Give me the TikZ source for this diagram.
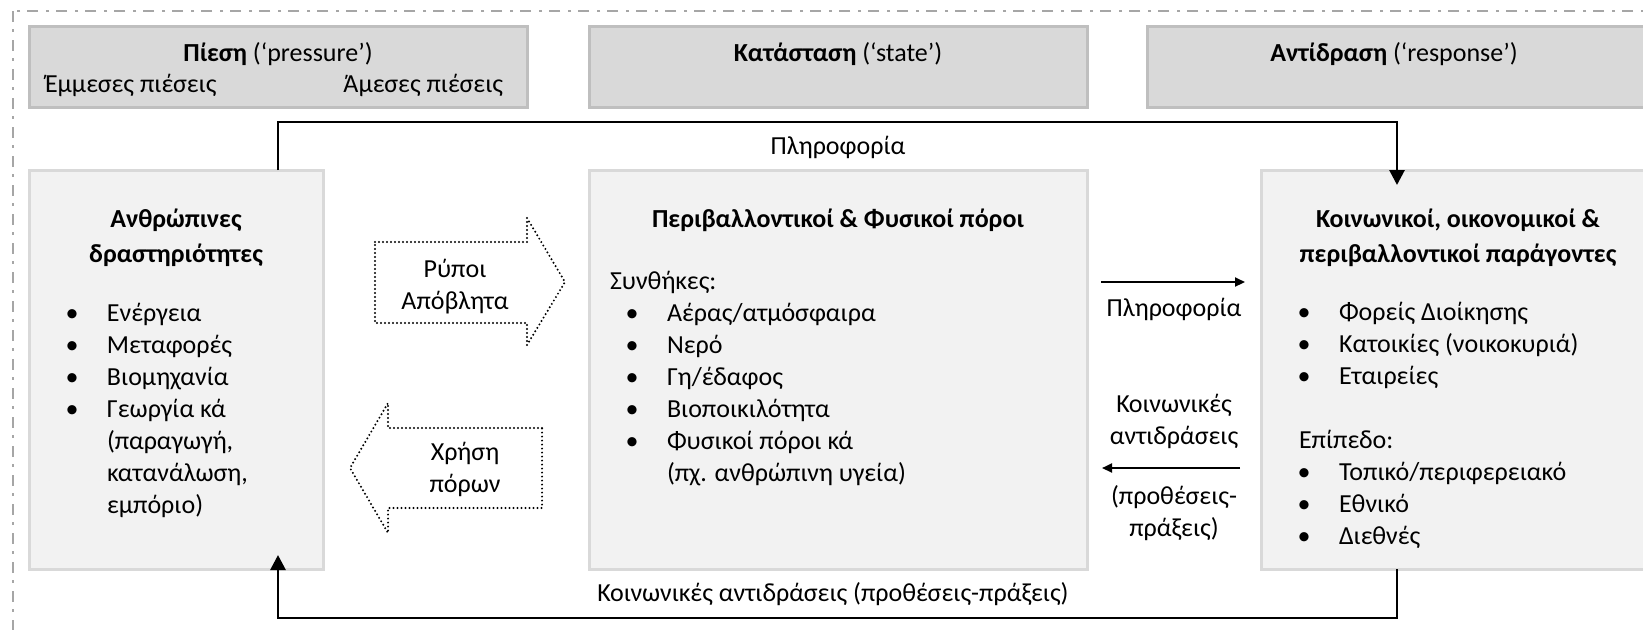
\documentclass[tikz,border=0pt]{standalone}
\usepackage{fontspec}
\setmainfont{Carlito}
\usetikzlibrary{arrows.meta,fit}
\definecolor{hdrfill}{HTML}{D9D9D9}
\definecolor{hdrline}{HTML}{BFBFBF}
\definecolor{boxfill}{HTML}{F2F2F2}
\definecolor{boxline}{HTML}{D9D9D9}
\definecolor{frameline}{HTML}{A6A6A6}
\newcommand\mybul{\makebox[0pt][c]{•}\hspace{17.5pt}}
\newcommand\myind{\hspace*{17.5pt}}
\begin{document}
\begin{tikzpicture}[x=0.5pt,y=-0.5pt,
  hdr/.style={draw=hdrline,fill=hdrfill,line width=1.5pt,inner sep=0pt,outer sep=0pt},
  mbox/.style={draw=boxline,fill=boxfill,line width=1.5pt,inner sep=0pt,outer sep=0pt},
  txt/.style={font=\fontsize{13}{16}\selectfont,inner sep=0pt,outer sep=0pt},
  ttl/.style={font=\fontsize{13}{17.5}\selectfont\bfseries,inner sep=0pt,outer sep=0pt},
  conn/.style={line width=1.4pt,-{Triangle[width=7.5pt,length=7.5pt]}},
  smallarrow/.style={line width=1pt,-{Triangle[width=4.5pt,length=5pt]}},
  blk/.style={line width=1.1pt,line cap=round,dash pattern=on 0pt off 2pt},
  outerframe/.style={draw=frameline,line width=1pt,dash pattern=on 5.5pt off 3.5pt on 1.5pt off 4pt}]
\useasboundingbox (0,0) rectangle (1643,629);
\fill[white] (0,0) rectangle (1643,629);
\clip (0,0) rectangle (1643,629);
% outer dash-dot frame (clipped at right and bottom)
\draw[outerframe] (13,11) rectangle (1700,700);
% header boxes
\node[hdr,fit={(29,26) (527,107)}] (H1) {};
\node[hdr,fit={(589,26) (1087,107)}] (H2) {};
\node[hdr,fit={(1147,26) (1660,107)}] (H3) {};
\node[txt,anchor=base] (h1t) at (278,61) {\textbf{Πίεση} (‘pressure’)};
\node[txt,anchor=base west] (h1a) at (45,92) {Έμμεσες πιέσεις};
\node[txt,anchor=base east] (h1b) at (503,92) {Άμεσες πιέσεις};
\node[txt,anchor=base] (h2t) at (838,61) {\textbf{Κατάσταση} (‘state’)};
\node[txt,anchor=base] (h3t) at (1394,61) {\textbf{Αντίδραση} (‘response’)};
% main boxes
\node[mbox,fit={(29,170) (323,569)}] (L) {};
\node[mbox,fit={(589,170) (1087,569)}] (M) {};
\node[mbox,fit={(1261,170) (1660,569)}] (R) {};
% left box text
\node[ttl,anchor=base] (Lt) at (176,227) {\begin{tabular}[t]{@{}c@{}}Ανθρώπινες\\δραστηριότητες\end{tabular}};
\node[txt,anchor=base west] (Ll) at (72,321) {\begin{tabular}[t]{@{}l@{}}
\mybul Ενέργεια\\ \mybul Μεταφορές\\ \mybul Βιομηχανία\\ \mybul Γεωργία κά\\
\myind (παραγωγή,\\ \myind κατανάλωση,\\ \myind εμπόριο)\end{tabular}};
% middle box text
\node[ttl,anchor=base] (Mt) at (838,227) {Περιβαλλοντικοί \& Φυσικοί πόροι};
\node[txt,anchor=base west] (Ms) at (610,289) {Συνθήκες:};
\node[txt,anchor=base west] (Ml) at (632,321) {\begin{tabular}[t]{@{}l@{}}
\mybul Αέρας/ατμόσφαιρα\\ \mybul Νερό\\ \mybul Γη/έδαφος\\ \mybul Βιοποικιλότητα\\
\mybul Φυσικοί πόροι κά\\ \myind (πχ. ανθρώπινη υγεία)\end{tabular}};
% right box text
\node[ttl,anchor=base] (Rt) at (1458,227) {\begin{tabular}[t]{@{}c@{}}Κοινωνικοί, οικονομικοί \&\\περιβαλλοντικοί παράγοντες\end{tabular}};
\node[txt,anchor=base west] (Rl1) at (1304,320) {\begin{tabular}[t]{@{}l@{}}
\mybul Φορείς Διοίκησης\\ \mybul Κατοικίες (νοικοκυριά)\\ \mybul Εταιρείες\end{tabular}};
\node[txt,anchor=base west] (Re) at (1299,448) {Επίπεδο:};
\node[txt,anchor=base west] (Rl2) at (1304,480) {\begin{tabular}[t]{@{}l@{}}
\mybul Τοπικό/περιφερειακό\\ \mybul Εθνικό\\ \mybul Διεθνές\end{tabular}};
% block arrows
\draw[blk] (375,242) -- (527,242) -- (527,218) -- (565,282) -- (527,345) -- (527,323) -- (375,323) -- cycle;
\node[txt,anchor=base] (ry) at (455,277) {\begin{tabular}[t]{@{}c@{}}Ρύποι\\Απόβλητα\end{tabular}};
\draw[blk] (542,428) -- (388,428) -- (388,403) -- (350,468) -- (388,533) -- (388,508) -- (542,508) -- cycle;
\node[txt,anchor=base] (xr) at (465,460) {\begin{tabular}[t]{@{}c@{}}Χρήση\\πόρων\end{tabular}};
% outer connectors
\coordinate (tl) at (278,122);
\coordinate (tr) at (1397,122);
\coordinate (bl) at (278,618);
\coordinate (br) at (1397,618);
\draw[conn,shorten >=-7.5pt] (L.north -| tl) -- (tl) -- (tr) -- (R.north -| tr);
\draw[conn,shorten >=-7pt] (R.south -| br) -- (br) -- (bl) -- (L.south -| bl);
\node[txt,anchor=base] (info1) at (838,154) {Πληροφορία};
\node[txt,anchor=base] (soc1) at (833,601) {Κοινωνικές αντιδράσεις (προθέσεις-πράξεις)};
% middle connectors
\coordinate (a1s) at (1101,282);
\coordinate (a1e) at (1245,282);
\coordinate (a2s) at (1240,468);
\coordinate (a2e) at (1102,468);
\draw[smallarrow] (a1s) -- (a1e);
\draw[smallarrow] (a2s) -- (a2e);
\node[txt,anchor=base] (info2) at (1174,316) {Πληροφορία};
\node[txt,anchor=base] (soc2) at (1174,412) {\begin{tabular}[t]{@{}c@{}}Κοινωνικές\\αντιδράσεις\end{tabular}};
\node[txt,anchor=base] (prax) at (1174,504) {\begin{tabular}[t]{@{}c@{}}(προθέσεις-\\πράξεις)\end{tabular}};
\end{tikzpicture}
\end{document}
